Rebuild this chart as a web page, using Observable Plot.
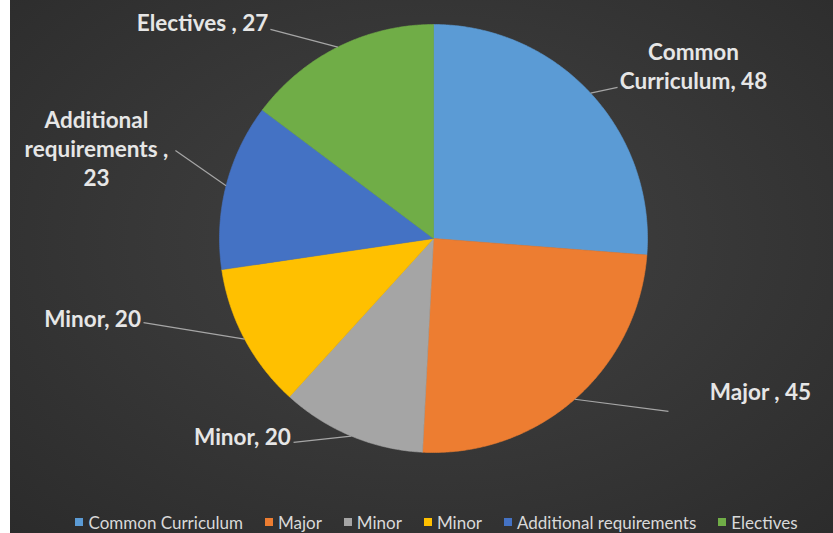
<!DOCTYPE html>
<html>
<head>
<meta charset="utf-8">
<script src="https://cdn.jsdelivr.net/npm/d3@7"></script>
<script src="https://cdn.jsdelivr.net/npm/@observablehq/plot@0.6"></script>
<style>
  html, body { margin: 0; padding: 0; background: #ffffff; }
  #frame {
    position: relative; width: 833px; height: 533px; overflow: hidden;
    background: radial-gradient(ellipse at 52% 45%, #424242 0%, #383838 45%, #2b2b2b 100%);
  }
  #strip { position: absolute; left: 0; top: 0; width: 10px; height: 533px; background: #ffffff; }
  #chart { position: absolute; left: 0; top: 0; }
  #legend {
    position: absolute; left: 0; top: 511px; width: 833px; height: 22px;
    display: flex; justify-content: center; align-items: center;
    padding-left: 40px; box-sizing: border-box;
    font-family: Lato, sans-serif; font-size: 17px; color: #d9d9d9;
  }
  .item { display: flex; align-items: center; margin-right: 22px; white-space: pre; }
  .item:last-child { margin-right: 0; }
  .sw { width: 8px; height: 8px; margin-right: 5px; }
</style>
</head>
<body>
<div id="frame">
  <div id="chart"></div>
  <div id="legend"></div>
  <div id="strip"></div>
</div>
<script>
// ---- data ----
const categories = ["Common Curriculum", "Major", "Minor", "Minor", "Additional requirements", "Electives"];
const values = [48, 45, 20, 20, 23, 27];
const colors = ["#5b9bd5", "#ed7d31", "#a5a5a5", "#ffc000", "#4472c4", "#70ad47"];
const labelNames = ["Common\nCurriculum, ", "Major , ", "Minor, ", "Minor, ", "Additional\nrequirements ,\n", "Electives , "];

// ---- layout (unit radius coordinates, label placement like Excel best fit) ----
const labelPos = [[1.215, -0.811], [1.528, 0.710], [-0.893, 0.921], [-1.593, 0.369], [-1.575, -0.425], [-1.079, -1.014]];
const leaderEnd = [[0.860, -0.706], [1.098, 0.808], [-0.654, 0.953], [-1.355, 0.393], [-1.206, -0.411], [-0.762, -0.977]];

const cx = 433, cy = 238, R = 214;

const arcs = d3.pie().sort(null).value(d => d)(values);

// slice outlines built from pie angles
const sliceRows = [];
arcs.forEach((a, i) => {
  sliceRows.push({i, x: 0, y: 0});
  const n = Math.max(2, Math.ceil((a.endAngle - a.startAngle) / (Math.PI / 360)));
  for (let k = 0; k <= n; k++) {
    const t = a.startAngle + (a.endAngle - a.startAngle) * k / n;
    sliceRows.push({i, x: Math.sin(t), y: -Math.cos(t)});
  }
  sliceRows.push({i, x: 0, y: 0});
});

const linkRows = arcs.map((a, i) => {
  const m = (a.startAngle + a.endAngle) / 2;
  return {i, x1: Math.sin(m), y1: -Math.cos(m), x2: leaderEnd[i][0], y2: leaderEnd[i][1]};
});

const textRows = arcs.map((a, i) => ({
  i, x: labelPos[i][0], y: labelPos[i][1], text: labelNames[i] + a.data
}));

const chart = Plot.plot({
  width: 833,
  height: 508,
  margin: 0,
  style: {background: "transparent", overflow: "visible"},
  x: {domain: [-1, 1], range: [cx - R, cx + R], axis: null},
  y: {domain: [-1, 1], range: [cy - R, cy + R], axis: null},
  color: {domain: d3.range(categories.length), range: colors},
  marks: [
    Plot.line(sliceRows, {x: "x", y: "y", z: "i", fill: "i", stroke: "i", strokeWidth: 0.6, curve: "linear"}),
    Plot.link(linkRows, {x1: "x1", y1: "y1", x2: "x2", y2: "y2", stroke: "#a6a6a6", strokeWidth: 1.2}),
    Plot.text(textRows, {
      x: "x", y: "y", text: "text", fill: "#e6e6e6",
      fontFamily: "Lato", fontWeight: "bold", fontSize: 22.5, lineHeight: 1.3, textAnchor: "middle"
    })
  ]
});
document.getElementById("chart").appendChild(chart);

const legend = document.getElementById("legend");
categories.forEach((c, i) => {
  const item = document.createElement("div");
  item.className = "item";
  const sw = document.createElement("div");
  sw.className = "sw";
  sw.style.background = colors[i];
  const lab = document.createElement("span");
  lab.textContent = c;
  item.appendChild(sw);
  item.appendChild(lab);
  legend.appendChild(item);
});
</script>
</body>
</html>
